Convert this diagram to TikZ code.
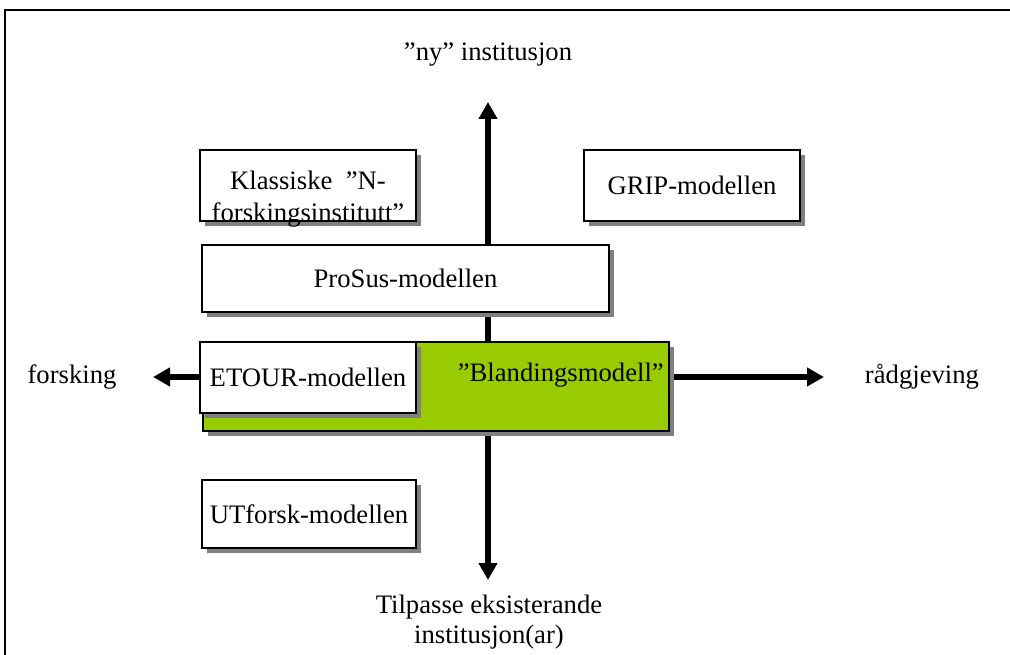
\documentclass[tikz,border=0pt]{standalone}
\usepackage{fontspec}
\setmainfont{Liberation Serif}
\usetikzlibrary{arrows.meta,shadows}
\begin{document}
\begin{tikzpicture}[x=0.75pt,y=-0.75pt,
  every node/.style={font=\fontsize{20}{22.5}\selectfont},
  mbox/.style={draw=black, line width=1.5pt, fill=white, inner sep=0pt, anchor=center,
    drop shadow={opacity=1, fill=black!50, shadow xshift=3.75pt, shadow yshift=-3.75pt}},
  axis/.style={line width=4pt, -{Triangle[length=12.75pt,width=13.5pt]}},
  lbl/.style={inner sep=0pt, align=center}]
\useasboundingbox (0,0) rectangle (1010,655);
% frame
\draw[line width=1.5pt] (5,655) -- (5,10) -- (1010,10);
% axis end points
\coordinate (axT) at (488,102);
\coordinate (axB) at (488,580);
\coordinate (axL) at (153,377);
\coordinate (axR) at (824,377);
\coordinate (ctr) at (488,377);
\draw[axis] (ctr) -- (axT);
\draw[axis] (ctr) -- (axB);
\draw[axis] (ctr) -- (axL);
\draw[axis] (ctr) -- (axR);
% axis labels
\node[lbl] (ny) at (488,55) {”ny” institusjon};
\node[lbl] (forsk) at (72,377) {forsking};
\node[lbl] (radg) at (922,377) {rådgjeving};
\node[lbl] (tilp) at (489,622) {Tilpasse eksisterande\\institusjon(ar)};
% boxes
\node[mbox, minimum width=162pt, minimum height=53.25pt] (klass) at (308,185.5) {};
\node[lbl, font=\fontsize{20}{24}\selectfont] (klasst) at (308,199) {Klassiske \ ”N-\\forskingsinstitutt”};
\node[mbox, minimum width=162pt, minimum height=53.25pt] (grip) at (692,185.5) {GRIP-modellen};
\node[mbox, minimum width=305.25pt, minimum height=50.25pt] (prosus) at (405.5,278.5) {ProSus-modellen};
\node[mbox, fill={rgb,255:red,153;green,204;blue,0}, minimum width=349.5pt, minimum height=66.75pt] (bland) at (436,386.5) {};
\node[lbl, anchor=east] (blandt) at (664,375) {”Blandingsmodell”};
\node[mbox, minimum width=162pt, minimum height=53.25pt] (etour) at (308,377.5) {ETOUR-modellen};
\node[mbox, minimum width=160.5pt, minimum height=51pt] (utf) at (309,514) {UTforsk-modellen};
\end{tikzpicture}
\end{document}
